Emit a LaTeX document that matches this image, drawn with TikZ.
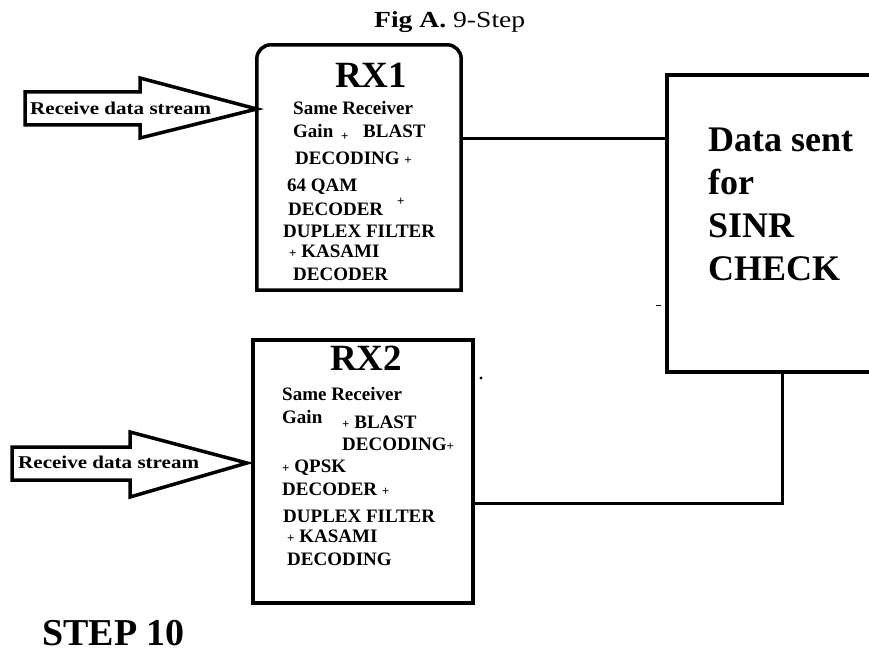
\documentclass[tikz,border=0pt]{standalone}
\usepackage{fontspec}
\usepackage{graphicx}
\setmainfont{Liberation Serif}
\newcommand\smallplus{{\fontsize{13}{13}\selectfont +}}
\tikzset{
  boxline/.style={line width=3.5pt, line join=miter},
  wire/.style={line width=3pt, line join=miter},
  blockarrow/.style={line width=3.5pt, line join=miter, fill=white},
  body/.style={anchor=base west, inner sep=0pt, font=\fontsize{19}{19}\selectfont\bfseries},
  rxtitle/.style={anchor=base, inner sep=0pt, font=\fontsize{37}{37}\selectfont\bfseries},
  bigline/.style={anchor=base west, inner sep=0pt, font=\fontsize{36}{36}\selectfont\bfseries},
  streamtxt/.style={anchor=base west, inner sep=0pt, font=\fontsize{18}{18}\selectfont\bfseries},
  frame/.style={rectangle, inner sep=0pt, boxline},
}
\begin{document}
\begin{tikzpicture}[x=1pt,y=-1pt]
\useasboundingbox[fill=white] (0,0) rectangle (869,652);

% caption
\node[anchor=base west, inner sep=0pt, font=\fontsize{23}{23}\selectfont] (title) at (374,28)
  {\scalebox{1.2}[1]{\textbf{Fig A.} 9-Step}};

% receiver boxes and the SINR check block
\node[rectangle, inner sep=0pt, minimum width=204pt, minimum height=245pt] (rx1) at (359,167.5) {};
\draw[boxline] (rx1.south west) -- ([yshift=-14pt]rx1.north west)
  .. controls ([yshift=-6.3pt]rx1.north west) and ([xshift=6.3pt]rx1.north west) .. ([xshift=14pt]rx1.north west)
  -- ([xshift=-14pt]rx1.north east)
  .. controls ([xshift=-6.3pt]rx1.north east) and ([yshift=-6.3pt]rx1.north east) .. ([yshift=-14pt]rx1.north east)
  -- (rx1.south east) -- cycle;
\node[frame, draw, minimum width=220pt, minimum height=263pt] (rx2) at (363,471.5) {};
\node[frame, draw, minimum width=218pt, minimum height=297pt] (sinr) at (776,223.5) {};

% RX1 contents
\node[rxtitle] (rx1t) at (371,88) {RX1};
\node[body] (a1) at (293,115) {Same Receiver};
\node[body] (a2) at (293,138) {Gain};
\node[body] (a2p) at (341,141) {\smallplus};
\node[body] (a2b) at (363,138) {BLAST};
\node[body] (a3) at (295,165) {DECODING \smallplus};
\node[body] (a4) at (287,192) {64 QAM};
\node[body] (a5) at (288,215) {DECODER};
\node[body] (a5p) at (397,206) {\smallplus};
\node[body] (a6) at (283,237) {DUPLEX FILTER};
\node[body] (a7) at (289,258) {\smallplus\ KASAMI};
\node[body] (a8) at (293,280) {DECODER};

% RX2 contents
\node[rxtitle] (rx2t) at (366,370) {RX2};
\node[body] (b1) at (282,400) {Same Receiver};
\node[body] (b2) at (282,423) {Gain};
\node[body] (b2b) at (342,428) {\smallplus\ BLAST};
\node[body] (b3) at (342,450) {DECODING\smallplus};
\node[body] (b4) at (282,472) {\smallplus\ QPSK};
\node[body] (b5) at (282,495) {DECODER \smallplus};
\node[body] (b6) at (283,522) {DUPLEX FILTER};
\node[body] (b7) at (287,542) {\smallplus\ KASAMI};
\node[body] (b8) at (287,565) {DECODING};

% SINR block text
\node[bigline] (s1) at (708,152) {Data sent};
\node[bigline] (s2) at (708,195) {for};
\node[bigline] (s3) at (708,237) {SINR};
\node[bigline] (s4) at (708,280) {CHECK};

% incoming data streams
\draw[blockarrow] (25,92) -- (140,92) -- (140,78) -- (rx1.west |- 0,109) -- (140,138) -- (140,125) -- (25,125) -- cycle;
\node[streamtxt] (in1) at (30,115) {\scalebox{1.17}[1]{Receive data stream}};
\draw[blockarrow] (12,447) -- (130,447) -- (130,432) -- (247,463) -- (130,497) -- (130,480) -- (12,480) -- cycle;
\node[streamtxt] (in2) at (18,468) {\scalebox{1.17}[1]{Receive data stream}};

% links to the SINR check
\coordinate (lvl1) at (0,139);
\coordinate (lvl2) at (782,503);
\draw[wire] (rx1.east |- lvl1) -- (sinr.west |- lvl1);
\draw[wire] (sinr.south -| lvl2) -- (lvl2) -- (rx2.east |- lvl2);

% stray marks
\fill (481,378) circle[radius=1.6pt];
\draw[line width=1pt] (656,305) -- (661,305);

% step label
\node[anchor=base west, inner sep=0pt, font=\fontsize{38}{38}\selectfont\bfseries] (step) at (42,645) {STEP 10};
\end{tikzpicture}
\end{document}
